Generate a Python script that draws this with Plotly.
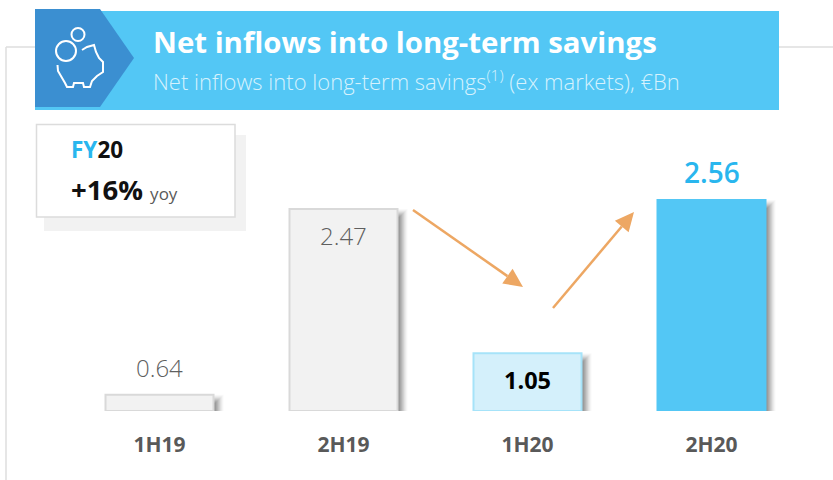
import math
import plotly.graph_objects as go

W, H = 833, 480
categories = ["1H19", "2H19", "1H20", "2H20"]
values = [0.64, 2.47, 1.05, 2.56]
value_labels = ["0.64", "2.47", "1.05", "2.56"]
bar_fill = ["#f2f2f2", "#f2f2f2", "#d4f0fb", "#53c7f5"]
bar_line = ["#d9d9d9", "#d9d9d9", "#a6e3f9", "#53c7f5"]
title = "Net inflows into long-term savings"
subtitle = "Net inflows into long-term savings<sup style='font-size:13px'>(1)</sup> (ex markets), €Bn"

FONT = "Open Sans"
Y_BASE, PX_PER_UNIT = 0.48, 101.5
BASE_PX = 411
SPACING = 184
LEFT = 67.5
BAR_W = 108 / SPACING


def px(x):
    return x / W


def py(y):
    return 1 - y / H


def poly(points):
    return "M" + " L".join(f"{px(x):.5f},{py(y):.5f}" for x, y in points) + " Z"


fig = go.Figure()

x_idx = list(range(len(categories)))
fig.add_trace(go.Bar(
    x=x_idx, y=[v - Y_BASE for v in values], base=Y_BASE, width=BAR_W,
    marker=dict(color=bar_fill, line=dict(color=bar_line, width=2)),
    hoverinfo="skip", showlegend=False,
))

shapes = []
# frame lines
for x0, y0, x1, y1 in [(6, 47, 35, 47), (6, 47, 6, 480), (779, 47, 833, 47)]:
    shapes.append(dict(type="line", xref="paper", yref="paper", x0=px(x0), y0=py(y0), x1=px(x1), y1=py(y1),
                       line=dict(color="#dedede", width=1.5), layer="below"))
# header band
shapes.append(dict(type="rect", xref="paper", yref="paper", x0=px(35), x1=px(779), y0=py(11), y1=py(110),
                   fillcolor="#53c7f5", line_width=0, layer="below"))
shapes.append(dict(type="path", xref="paper", yref="paper",
                   path=poly([(35, 9), (100, 9), (134, 58), (100, 107), (35, 107)]),
                   fillcolor="#3b8fd1", line_width=0, layer="below"))
# callout box and its shadow
shapes.append(dict(type="rect", xref="paper", yref="paper", x0=px(44), x1=px(246), y0=py(135), y1=py(231),
                   fillcolor="#f2f2f2", line_width=0, layer="below"))
shapes.append(dict(type="rect", xref="paper", yref="paper", x0=px(36.5), x1=px(235), y0=py(124.5), y1=py(217),
                   fillcolor="#ffffff", line=dict(color="#dcdcdc", width=1.5), layer="below"))
# bar shadows, derived from the data
half = BAR_W / 2
for i, v in enumerate(values):
    for step, alpha in [(10, 0.04), (9, 0.05), (8, 0.07), (7, 0.09), (6, 0.1), (5, 0.12), (4, 0.14), (3, 0.15), (2, 0.18)]:
        shapes.append(dict(type="rect", xref="x", yref="y", x0=i - half + 4 / SPACING, x1=i + half + step / SPACING,
                           y0=Y_BASE, y1=v - (10 - step) / PX_PER_UNIT,
                           fillcolor=f"rgba(90,90,90,{alpha})", line_width=0, layer="below"))

# piggy icon
WHITE = dict(color="#ffffff", width=2)
def circle(cx, cy, r):
    shapes.append(dict(type="circle", xref="paper", yref="paper", x0=px(cx - r), x1=px(cx + r),
                       y0=py(cy - r), y1=py(cy + r), line=WHITE))
circle(78, 34.5, 6.5)
circle(66, 51, 10)
pig = [(57.5, 65), (58, 71), (65, 83), (67, 87), (73, 87), (74, 83), (83, 83), (84, 87), (90, 87),
       (92, 81), (97, 76), (103, 72), (103, 62), (99, 58), (96, 52), (94, 45), (87, 47), (82, 50)]
shapes.append(dict(type="path", xref="paper", yref="paper", line=WHITE,
                   path="M" + " L".join(f"{px(x):.5f},{py(y):.5f}" for x, y in pig)))

# arrows: line plus filled head
ARROW = "#eda763"
for (x0, y0), (x1, y1) in [((413, 210), (523, 287)), ((553, 308), (634, 212))]:
    d = math.hypot(x1 - x0, y1 - y0)
    ux, uy = (x1 - x0) / d, (y1 - y0) / d
    bx, by = x1 - ux * 19, y1 - uy * 19
    nx, ny = -uy, ux
    shapes.append(dict(type="line", xref="paper", yref="paper", x0=px(x0), y0=py(y0), x1=px(bx), y1=py(by),
                       line=dict(color=ARROW, width=2.5)))
    shapes.append(dict(type="path", xref="paper", yref="paper", fillcolor=ARROW, line_width=0,
                       path=poly([(x1, y1), (bx + nx * 9, by + ny * 9), (bx - nx * 9, by - ny * 9)])))

ann = []
def text(x, y, s, size, color, anchor="left", xref="paper", yref="paper", yshift=0, weight=None):
    font = dict(family=FONT, size=size, color=color)
    if weight:
        font["weight"] = weight
    ann.append(dict(x=x, y=y, xref=xref, yref=yref, text=s, showarrow=False, xanchor=anchor, yanchor="middle",
                    yshift=yshift, borderpad=0, font=font))

text(px(152), py(42), f"<b>{title}</b>", 29.4, "#ffffff")
text(px(152), py(81), subtitle, 22, "#d6f2fd", weight=300)
text(px(70), py(149), "<b><span style='color:#29b6ee'>FY</span>20</b>", 22.5, "#111111")
text(px(70), py(190), "<b>+16%</b> <span style='font-size:17px;color:#595959'>yoy</span>", 27.5, "#111111")

# value labels, placed from the data
text(0, values[0], value_labels[0], 24, "#5f5f5f", "center", "x", "y", 27, 300)
text(1, values[1], value_labels[1], 24, "#5f5f5f", "center", "x", "y", -26, 300)
text(2, values[2], f"<b>{value_labels[2]}</b>", 23.5, "#000000", "center", "x", "y", -27)
text(3, values[3], value_labels[3], 28, "#29b6ee", "center", "x", "y", 28, 600)

fig.update_layout(
    width=W, height=H, margin=dict(l=0, r=0, t=0, b=0), autosize=False,
    paper_bgcolor="#ffffff", plot_bgcolor="rgba(0,0,0,0)", shapes=shapes, annotations=ann,
    xaxis=dict(domain=[LEFT / W, (LEFT + 4 * SPACING) / W], range=[-0.5, 3.5], tickmode="array",
               tickvals=x_idx, ticktext=[f"<b>{c}</b>" for c in categories], showgrid=False, zeroline=False,
               showline=False, ticks="outside", ticklen=15, tickcolor="rgba(0,0,0,0)",
               tickfont=dict(family=FONT, size=21, color="#595959"), fixedrange=True),
    yaxis=dict(domain=[(H - BASE_PX) / H, 1], range=[Y_BASE, Y_BASE + BASE_PX / PX_PER_UNIT], visible=False,
               fixedrange=True),
)
fig.write_html("out.html", config=dict(displayModeBar=False),
               post_script="document.body.style.margin='0';document.documentElement.style.overflow='hidden';")
